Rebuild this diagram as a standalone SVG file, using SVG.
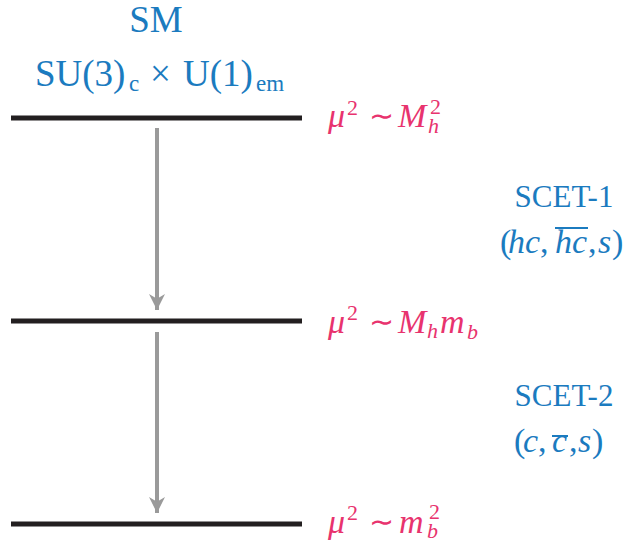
<svg xmlns="http://www.w3.org/2000/svg" width="624" height="540" viewBox="0 0 624 540">
<style>
.lvl{stroke:#231f20;stroke-width:5}
.arr{stroke:#9a9a9a;stroke-width:4;fill:none}
.b{fill:#1b7bbf;font-family:"Liberation Serif",serif}
.t{font-size:37px}
.bs{font-size:23px}
.sc{font-size:31px}
.m{font-size:34px}
.p{fill:#e8336e;font-family:"Liberation Serif",serif;font-size:34px}
.s{font-size:22px}
.tl{font-size:30px}
.i{font-style:italic}
.ov{stroke:#1b7bbf;stroke-width:2}
</style>
<defs>
<marker id="ah" viewBox="0 0 10 10" refX="10" refY="5" markerWidth="4" markerHeight="4" orient="auto" markerUnits="strokeWidth">
<path d="M0,0 L10,5 L0,10 L3,5 Z" fill="#9a9a9a"/>
</marker>
</defs>
<g id="title">
<text class="b t" x="156" y="32" text-anchor="middle">SM</text>
<text class="b t" y="86"><tspan x="35">SU(3)</tspan><tspan class="bs" x="129" y="91">c</tspan><tspan x="150" y="86">×</tspan><tspan x="183">U(1)</tspan><tspan class="bs" x="256" y="91">em</tspan></text>
</g>
<g id="level1">
<line class="lvl" x1="11" y1="118" x2="302" y2="118"/>
<text class="p"><tspan class="i" x="328" y="127">μ</tspan><tspan class="s" x="347" y="115">2</tspan><tspan class="tl" x="369" y="126">∼</tspan><tspan class="i" x="398" y="127">M</tspan><tspan class="i s" x="428" y="133">h</tspan><tspan class="s" x="430" y="114">2</tspan></text>
</g>
<g id="level2">
<line class="lvl" x1="11" y1="321" x2="302" y2="321"/>
<text class="p"><tspan class="i" x="328" y="333">μ</tspan><tspan class="s" x="347" y="320">2</tspan><tspan class="tl" x="369" y="332">∼</tspan><tspan class="i" x="398" y="333">M</tspan><tspan class="i s" x="427" y="338">h</tspan><tspan class="i" x="440" y="333">m</tspan><tspan class="i s" x="467" y="339">b</tspan></text>
</g>
<g id="level3">
<line class="lvl" x1="11" y1="524" x2="302" y2="524"/>
<text class="p"><tspan class="i" x="328" y="533">μ</tspan><tspan class="s" x="347" y="520">2</tspan><tspan class="tl" x="369" y="532">∼</tspan><tspan class="i" x="399" y="533">m</tspan><tspan class="s" x="429" y="519">2</tspan><tspan class="i s" x="427" y="538">b</tspan></text>
</g>
<g id="scet1">
<text class="b sc" x="564" y="207" text-anchor="middle">SCET-1</text>
<text class="b m" y="253"><tspan x="500">(</tspan><tspan class="i" x="508">hc</tspan><tspan x="540">,</tspan><tspan class="i" x="555">hc</tspan><tspan x="588">,</tspan><tspan class="i" x="598">s</tspan><tspan x="612">)</tspan></text>
<line class="ov" x1="555" y1="228" x2="588" y2="228"/>
</g>
<g id="scet2">
<text class="b sc" x="564" y="406" text-anchor="middle">SCET-2</text>
<text class="b m" y="452"><tspan x="514">(</tspan><tspan class="i" x="523">c</tspan><tspan x="538">,</tspan><tspan class="i" x="552">c</tspan><tspan x="569">,</tspan><tspan class="i" x="578">s</tspan><tspan x="592">)</tspan></text>
<line class="ov" x1="552" y1="436" x2="568" y2="436"/>
</g>
<g id="connectors">
<line class="arr" x1="157" y1="128" x2="157" y2="310" marker-end="url(#ah)"/>
<line class="arr" x1="157" y1="332" x2="157" y2="513" marker-end="url(#ah)"/>
</g>
</svg>
